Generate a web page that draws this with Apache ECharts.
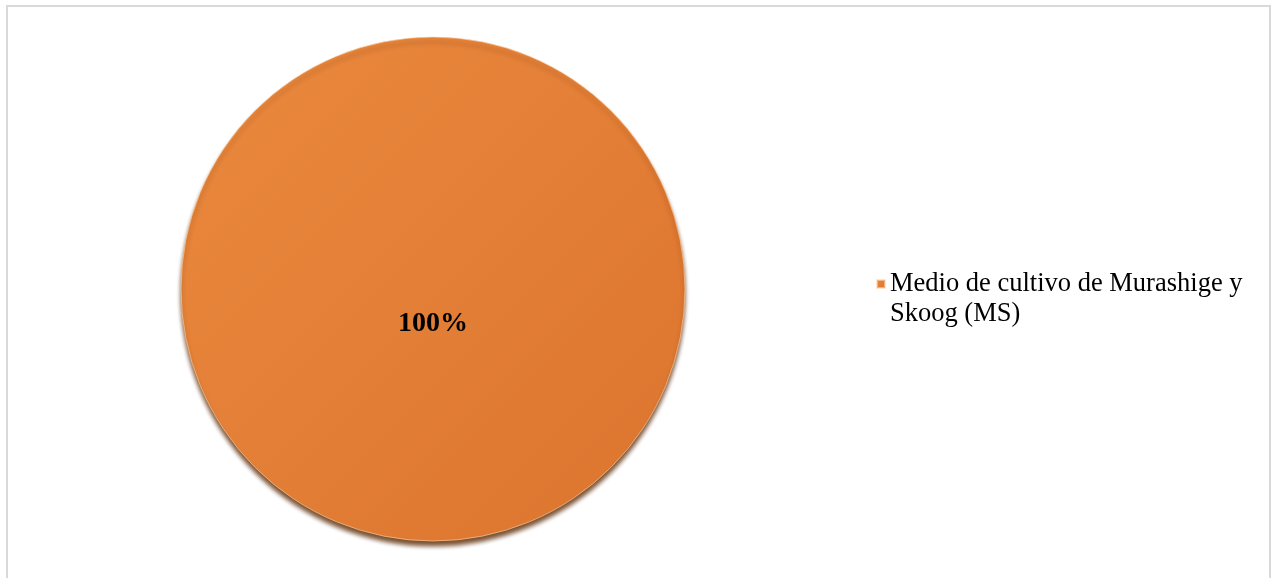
<!DOCTYPE html>
<html>
<head>
<meta charset="utf-8">
<script src="https://cdn.jsdelivr.net/npm/echarts@6/dist/echarts.min.js"></script>
<style>
    html, body {
        margin: 0;
        padding: 0;
        background: #ffffff;
    }
    .frame {
        position: absolute;
        left: 6px;
        top: 5px;
        width: 1265px;
        height: 620px;
        box-sizing: border-box;
        border: 2px solid #d9d9d9;
    }
    #chart {
        position: absolute;
        left: 0;
        top: 0;
        width: 1271px;
        height: 578px;
    }
</style>
</head>
<body>
<div class="frame"></div>
<div id="chart"></div>
<script>
const categories = ['Medio de cultivo de Murashige y Skoog (MS)']
const values = [100]

const serif = "'Liberation Serif', 'Times New Roman', serif"

const chart = echarts.init(document.getElementById('chart'))

chart.setOption({
    animation: false,
    legend: {
        orient: 'vertical',
        left: 871,
        top: 234,
        itemWidth: 8,
        itemHeight: 8,
        itemGap: 0,
        icon: 'rect',
        data: categories,
        // blank first line keeps the marker level with the first text line
        formatter: name => '\n' + name,
        textStyle: {
            fontFamily: serif,
            fontSize: 26.5,
            color: '#000000',
            lineHeight: 30,
            width: 370,
            overflow: 'break',
        },
    },
    series: [
        {
            type: 'pie',
            center: [433, 289],
            radius: 252,
            startAngle: 90,
            silent: true,
            label: {
                show: true,
                position: 'center',
                formatter: '\n{d}%',
                fontFamily: serif,
                fontWeight: 'bold',
                fontSize: 28,
                lineHeight: 70,
                color: '#000000',
            },
            labelLine: { show: false },
            itemStyle: {
                color: new echarts.graphic.LinearGradient(0, 0, 1, 1, [
                    { offset: 0, color: '#ea893e' },
                    { offset: 1, color: '#dc742e' },
                ]),
                borderColor: 'rgba(255, 214, 170, 0.6)',
                borderWidth: 1,
                shadowColor: 'rgba(90, 40, 0, 0.8)',
                shadowBlur: 4,
                shadowOffsetY: 5,
            },
            data: categories.map((name, i) => ({ name, value: values[i] })),
        },
    ],
})
</script>
</body>
</html>
